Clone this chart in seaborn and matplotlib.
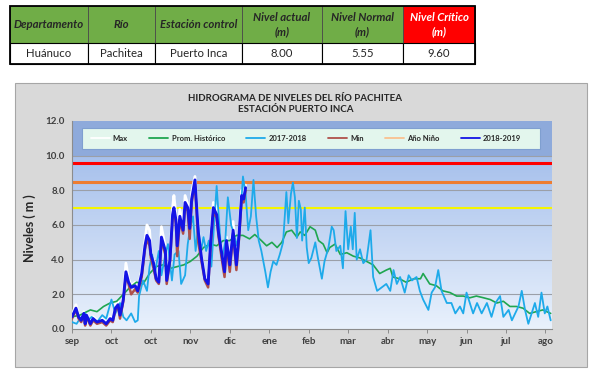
import matplotlib.pyplot as plt
import matplotlib.colors as mcolors
import numpy as np
import pandas as pd
import seaborn as sns
from matplotlib.patches import Rectangle
from matplotlib.lines import Line2D

# --- datos de la tabla ---
TABLE_HEADERS = ["Departamento", "Río", "Estación control",
                 "Nivel actual\n(m)", "Nivel Normal\n(m)", "Nivel Crítico\n(m)"]
TABLE_VALUES = ["Huánuco", "Pachitea", "Puerto Inca", "8.00", "5.55", "9.60"]

# --- eje x: días desde el 1 de septiembre ---
TICK_DAYS = [0, 30, 60, 90, 120, 150, 180, 210, 240, 270, 300, 330, 360]
TICK_LABELS = ["sep", "oct", "oct", "nov", "dic", "ene", "feb", "mar",
               "abr", "may", "jun", "jul", "ago"]

# --- niveles de referencia (critico, alerta, amarillo) ---
UMBRAL_VALUES = [9.6, 8.5, 7.0]
UMBRAL_COLORS = ["#ff0000", "#ed7d31", "#f5f500"]
UMBRAL_WIDTHS = [2.2, 2.2, 1.5]

# --- Prom. Histórico ---
DAYS_PROM = [0, 6, 14, 19, 24, 29, 34, 39, 44, 49,
             54, 59, 64, 69, 75, 80, 85, 90, 95, 100,
             105, 110, 115, 120, 125, 130, 135, 139, 144, 148,
             152, 156, 159.5, 163, 167, 171, 173.5, 177, 181, 185,
             187.5, 191, 194, 196, 200, 204, 209, 214, 219, 224,
             229, 234, 239, 242, 244, 249, 254, 260, 265, 267,
             272, 277, 282, 287.5, 292.5, 297.5, 302.5, 307.5, 313, 318,
             323, 328, 333, 338, 343, 348, 353, 358, 364]
NIVEL_PROM = [0.7, 0.8, 1.1, 1.0, 1.3, 1.5, 1.6, 2.0, 2.4, 2.7,
              2.6, 3.2, 3.6, 3.7, 3.5, 3.6, 3.7, 3.9, 4.2, 4.7,
              4.9, 4.8, 5.1, 5.1, 5.4, 5.4, 5.2, 5.45, 5.1, 4.8,
              5.0, 4.7, 5.0, 5.6, 5.7, 5.3, 5.6, 5.4, 5.9, 5.7,
              5.1, 4.9, 4.4, 4.7, 4.9, 4.3, 4.4, 4.2, 4.1, 3.9,
              3.7, 3.2, 3.4, 3.5, 3.0, 2.9, 2.7, 2.9, 2.9, 3.2,
              2.6, 2.5, 2.2, 2.1, 1.9, 1.9, 1.8, 1.9, 1.8, 1.7,
              1.5, 1.6, 1.3, 1.3, 1.2, 0.9, 1.0, 1.1, 0.9]

# --- 2017-2018 ---
DAYS_1718 = [0, 3.5, 6, 10, 12, 15, 19, 23, 26, 30,
             33, 36.5, 39, 41.5, 45, 48, 50, 51, 54, 57,
             59, 61, 63, 66, 68, 71.5, 73, 76, 78, 81,
             83, 86, 88, 90, 92, 94, 96, 98, 100, 102,
             104, 106, 108, 110, 112, 114, 116.5, 118.5, 121, 123,
             125.5, 127.5, 130, 132, 134, 136, 138, 140, 142, 144,
             147, 149, 151, 153, 155.5, 158, 160.5, 163, 164.5, 166.5,
             168, 169.5, 171, 172.5, 174, 175, 177, 178.5, 180, 182,
             185, 187, 190, 192, 195, 197.5, 199, 201, 204, 206,
             208, 210, 212, 213.5, 215, 216.5, 219, 221.5, 224, 227,
             229, 232, 235.5, 239, 242, 244.5, 247, 249.5, 253, 256,
             258.5, 262, 264.5, 267, 271, 273.5, 276, 278.5, 281, 285,
             288.5, 291.5, 295, 297.5, 300, 302.5, 305, 308, 311.5, 315.5,
             319, 322, 325.5, 328, 332, 334.5, 337, 339.5, 342, 344.5,
             347, 349.5, 352, 354.5, 357, 359.5, 361.5, 364]
NIVEL_1718 = [0.4, 0.3, 0.6, 0.9, 0.5, 0.7, 0.4, 0.8, 0.6, 1.7,
              0.9, 1.5, 0.7, 0.5, 0.9, 0.4, 0.5, 1.9, 2.8, 2.2,
              3.6, 4.3, 3.2, 4.5, 3.1, 4.5, 4.9, 2.8, 4.3, 4.5,
              2.6, 3.1, 4.9, 5.9, 6.5, 4.5, 6.0, 4.5, 5.3, 4.5,
              5.1, 3.6, 6.0, 8.25, 6.0, 4.0, 5.0, 7.6, 6.0, 5.5,
              4.8, 5.8, 8.8, 7.8, 5.7, 6.5, 8.6, 6.5, 5.1, 4.5,
              3.3, 2.4, 3.3, 3.9, 3.7, 4.3, 5.0, 7.9, 6.1, 7.8,
              8.45, 7.6, 5.25, 7.4, 6.9, 5.1, 7.0, 4.7, 3.8, 4.1,
              5.0, 4.1, 2.9, 3.9, 4.7, 5.9, 5.7, 4.5, 4.8, 3.5,
              6.8, 4.6, 5.9, 4.6, 6.7, 4.0, 4.6, 3.8, 4.0, 5.7,
              3.0, 2.2, 2.4, 2.6, 2.2, 3.4, 2.6, 3.0, 2.1, 3.1,
              2.8, 3.0, 2.2, 1.7, 1.1, 2.1, 2.4, 3.4, 2.2, 1.5,
              1.5, 0.9, 1.3, 0.9, 2.1, 1.5, 0.9, 1.5, 0.9, 1.5,
              0.7, 1.5, 1.9, 0.7, 1.1, 0.5, 0.9, 1.3, 2.2, 1.1,
              0.3, 0.9, 1.5, 0.7, 2.1, 0.9, 1.3, 0.5]

# --- 2018-2019 (con Max y Min diarios) ---
DAYS_1819 = [0, 3, 5, 7, 9, 10, 11, 14, 16, 19,
             23, 26, 29, 31, 33, 35, 36.5, 38, 39, 41,
             43, 45, 48, 50, 53, 55.5, 57, 59, 60, 62,
             64, 66, 68, 71, 72, 74.5, 76.5, 77.5, 79, 80,
             82, 84.5, 86, 88, 89.5, 91, 93.5, 96, 98.5, 101,
             103.5, 105.5, 107.5, 110, 111.5, 114, 116, 117.5, 120, 122.5,
             125, 127, 129, 130.5, 132]
NIVEL_1819 = [0.7, 1.2, 0.7, 0.5, 0.9, 0.3, 0.8, 0.3, 0.6, 0.4,
              0.5, 0.3, 0.6, 0.5, 1.2, 1.4, 0.8, 1.3, 1.7, 3.3,
              2.7, 2.4, 2.5, 2.2, 3.2, 4.8, 5.4, 5.1, 4.3, 3.8,
              2.9, 2.7, 5.3, 4.5, 2.8, 4.0, 6.6, 7.0, 6.3, 4.8,
              6.5, 5.7, 7.3, 7.0, 5.8, 7.5, 8.6, 5.6, 4.1, 2.9,
              2.6, 5.1, 7.0, 6.6, 5.5, 4.3, 3.3, 5.1, 3.7, 5.7,
              3.7, 5.4, 7.7, 7.5, 8.15]
MAX_1819 = [0.8, 1.4, 0.8, 0.6, 1.0, 0.4, 0.9, 0.4, 0.7, 0.5,
            0.6, 0.4, 0.7, 0.6, 1.4, 1.6, 0.9, 1.4, 1.9, 3.8,
            2.9, 2.5, 2.7, 2.3, 3.4, 5.1, 6.0, 5.7, 4.5, 3.9,
            3.0, 2.8, 5.9, 4.7, 2.9, 4.1, 7.0, 7.7, 6.6, 5.0,
            6.9, 5.9, 7.7, 7.2, 6.0, 7.9, 8.8, 5.8, 4.2, 3.0,
            2.7, 5.3, 7.3, 7.0, 5.7, 4.4, 3.4, 5.3, 3.8, 6.2,
            3.8, 5.6, 8.0, 7.7, 8.3]
MIN_1819 = [0.6, 1.1, 0.6, 0.4, 0.8, 0.2, 0.7, 0.2, 0.5, 0.3,
            0.4, 0.2, 0.5, 0.4, 1.1, 1.3, 0.6, 1.2, 1.6, 3.1,
            2.6, 2.0, 2.3, 2.1, 3.0, 4.6, 5.2, 4.8, 4.1, 3.5,
            2.8, 2.6, 5.1, 4.3, 2.6, 3.9, 6.4, 6.8, 6.1, 4.2,
            6.3, 5.5, 7.1, 6.8, 5.2, 7.3, 8.4, 5.0, 3.9, 2.8,
            2.4, 4.9, 6.8, 6.4, 5.3, 4.0, 3.0, 4.9, 3.3, 5.5,
            3.4, 5.2, 7.5, 7.3, 8.0]

FIG_W, FIG_H = 611, 379
TEXT_DARK = "#262626"


def px_axes(left, top, right, bottom):
    return [left / FIG_W, 1 - bottom / FIG_H, (right - left) / FIG_W, (bottom - top) / FIG_H]


def draw_table(bg):
    col_edges = [10, 88, 155, 242, 322, 403, 475]
    top, mid, bottom = 5.5, 42.5, 64
    for i in range(len(TABLE_HEADERS)):
        x0, x1 = col_edges[i], col_edges[i + 1]
        critico = i == len(TABLE_HEADERS) - 1
        bg.add_patch(Rectangle((x0, top), x1 - x0, mid - top,
                               facecolor="#ff0000" if critico else "#70ad47",
                               edgecolor="#4a4a4a", lw=0.6))
        bg.add_patch(Rectangle((x0, mid), x1 - x0, bottom - mid,
                               facecolor="white", edgecolor="black", lw=0.8))
        bg.text((x0 + x1) / 2, (top + mid) / 2 + 0.5, TABLE_HEADERS[i],
                ha="center", va="center", fontsize=8.2, fontweight="bold",
                fontstyle="italic", linespacing=1.3,
                color="white" if critico else TEXT_DARK)
        bg.text((x0 + x1) / 2, (mid + bottom) / 2 + 0.5, TABLE_VALUES[i],
                ha="center", va="center", fontsize=8.2, color=TEXT_DARK)
    bg.add_patch(Rectangle((col_edges[0], top), col_edges[-1] - col_edges[0], bottom - top,
                           facecolor="none", edgecolor="black", lw=1.3))


def main():
    sns.set_theme(style="white")
    plt.rcParams["font.family"] = ["Lato", "DejaVu Sans"]

    fig = plt.figure(figsize=(FIG_W / 100, FIG_H / 100), dpi=100)

    # fondo con coordenadas en pixeles
    bg = fig.add_axes([0, 0, 1, 1])
    bg.set_xlim(0, FIG_W)
    bg.set_ylim(FIG_H, 0)
    bg.axis("off")
    bg.add_patch(Rectangle((15, 83), 572, 284, facecolor="#d9d9d9",
                           edgecolor="#a6a6a6", lw=0.8))
    draw_table(bg)
    bg.text(295.5, 98.5, "HIDROGRAMA DE NIVELES DEL RÍO PACHITEA", ha="center",
            va="center", fontsize=7, fontweight="bold", color=TEXT_DARK)
    bg.text(295.5, 109, "ESTACIÓN PUERTO INCA", ha="center", va="center",
            fontsize=7, fontweight="bold", color=TEXT_DARK)
    bg.text(30, 228, "Niveles ( m )", rotation=90, ha="center", va="center",
            fontsize=9, fontweight="bold", color=TEXT_DARK)

    ax = fig.add_axes(px_axes(72, 121, 552, 329))

    # fondo degradado del area de trazado
    cmap = mcolors.LinearSegmentedColormap.from_list("fondo", ["#e9f1fc", "#a6c0ec"])
    grad = np.linspace(0, 1, 256).reshape(-1, 1)
    ax.imshow(grad, extent=[0, 365, 0, 10], origin="lower", aspect="auto",
              cmap=cmap, zorder=0)
    ax.axhspan(10, 12, color="#8eaadb", zorder=0, lw=0)

    for val in [2, 4, 6, 8, 10]:
        ax.axhline(val, color="#9b9fa8", lw=0.8, zorder=1)
    for val, col, lw in zip(UMBRAL_VALUES, UMBRAL_COLORS, UMBRAL_WIDTHS):
        ax.axhline(val, color=col, lw=lw, zorder=2)

    df_prom = pd.DataFrame({"dia": DAYS_PROM, "nivel": NIVEL_PROM})
    df_1718 = pd.DataFrame({"dia": DAYS_1718, "nivel": NIVEL_1718})
    df_1819 = pd.DataFrame({"dia": DAYS_1819, "nivel": NIVEL_1819,
                            "max": MAX_1819, "min": MIN_1819})

    sns.lineplot(data=df_1819, x="dia", y="max", ax=ax, color="white", lw=2.0, zorder=3)
    sns.lineplot(data=df_prom, x="dia", y="nivel", ax=ax, color="#1fa650", lw=1.2, zorder=3)
    sns.lineplot(data=df_1718, x="dia", y="nivel", ax=ax, color="#1eaaea", lw=1.3, zorder=3)
    sns.lineplot(data=df_1819, x="dia", y="min", ax=ax, color="#b0504a", lw=1.8, zorder=3)
    sns.lineplot(data=df_1819, x="dia", y="nivel", ax=ax, color="#1414e6", lw=2.1, zorder=4)

    ax.set_xlim(0, 365)
    ax.set_ylim(0, 12)
    ax.set_xticks(TICK_DAYS)
    ax.set_xticklabels(TICK_LABELS)
    ax.set_yticks(np.arange(0, 12.1, 2))
    ax.set_yticklabels([f"{v:.1f}" for v in np.arange(0, 12.1, 2)])
    ax.set_xlabel("")
    ax.set_ylabel("")
    ax.tick_params(axis="x", bottom=True, length=3, width=0.7, color="#8c8c8c",
                   pad=3, labelsize=7, labelcolor="#404040")
    ax.tick_params(axis="y", left=False, length=0, pad=5, labelsize=7,
                   labelcolor="#404040")
    for lab in ax.get_xticklabels() + ax.get_yticklabels():
        lab.set_fontweight("bold")
    for side in ["top", "right"]:
        ax.spines[side].set_visible(False)
    for side in ["left", "bottom"]:
        ax.spines[side].set_color("#8c8c8c")
        ax.spines[side].set_linewidth(0.8)

    # leyenda
    ax.add_patch(Rectangle((0.021, 0.865), 0.954, 0.101, transform=ax.transAxes,
                           facecolor="#e3f6ed", edgecolor="#7f9fd0", lw=0.8, zorder=5))
    handles = [
        Line2D([], [], color="white", lw=1.3),
        Line2D([], [], color="#1fa650", lw=1.3),
        Line2D([], [], color="#1eaaea", lw=1.3),
        Line2D([], [], color="#b0504a", lw=1.3),
        Line2D([], [], color="#fac08f", lw=1.3),
        Line2D([], [], color="#1414e6", lw=1.3),
    ]
    labels = ["Max", "Prom. Histórico", "2017-2018", "Min", "Año Niño", "2018-2019"]
    leg = ax.legend(handles, labels, loc="center", bbox_to_anchor=(0.4875, 0.916),
                    ncol=6, frameon=False, prop={"size": 5.5, "weight": "bold"},
                    handlelength=2.5, columnspacing=2.8, handletextpad=0.4)
    leg.set_zorder(6)
    for t in leg.get_texts():
        t.set_color(TEXT_DARK)

    fig.savefig("out.png", dpi=100)
    plt.close(fig)


if __name__ == "__main__":
    main()
